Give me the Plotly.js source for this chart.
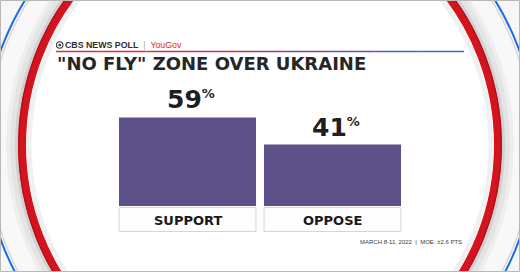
<!DOCTYPE html>
<html>
<head>
<meta charset="utf-8">
<script src="https://cdn.plot.ly/plotly-3.0.1.min.js"></script>
<style>html,body{margin:0;padding:0;background:#fff;}#chart{width:520px;height:272px;}</style>
</head>
<body>
<div id="chart"></div>
<script>
// ---- data ----
const categories = ["SUPPORT", "OPPOSE"];
const values = [59, 41];
const valueSuffix = "%";
const headerLeft = "CBS NEWS POLL";
const headerRight = "YouGov";
const chartTitle = "\"NO FLY\" ZONE OVER UKRAINE";
const footnote = "MARCH 8-11, 2022  |  MOE: ±2.6 PTS";

// ---- helpers (pixel -> paper, margins are 0) ----
const W = 520, H = 272;
const px = x => x / W;
const py = y => 1 - y / H;

const shapes = [];
shapes.push({type:'rect', xref:'paper', yref:'paper', x0:0, x1:1, y0:0, y1:1, fillcolor:'#f6f6f6', line:{width:0}, layer:'below'});
const cx = 260, cy = 145;
function ell(rx, ry, opts){
  return Object.assign({type:'circle', xref:'paper', yref:'paper', x0:px(cx-rx), x1:px(cx+rx), y0:py(cy+ry), y1:py(cy-ry), layer:'below'}, opts);
}
shapes.push(ell(276, 276, {fillcolor:'#f8f8f8', line:{color:'#1c6ee0', width:2}}));
shapes.push(ell(273, 273, {fillcolor:'rgba(0,0,0,0)', line:{color:'#d8d8d8', width:1.5}}));
shapes.push(ell(252, 257, {fillcolor:'#e4e4e4', line:{color:'#eeeeee', width:4}}));
shapes.push(ell(245, 250, {fillcolor:'#d0d0d0', line:{width:0}}));
shapes.push(ell(238, 243, {fillcolor:'#ffffff', line:{color:'#d3141f', width:8}}));
shapes.push(ell(241.5, 246.5, {fillcolor:'rgba(0,0,0,0)', line:{color:'#a80d18', width:1}}));
shapes.push(ell(231, 236, {fillcolor:'rgba(0,0,0,0)', line:{color:'#f0f0f0', width:5}}));
shapes.push({type:'rect', xref:'paper', yref:'paper', x0:px(0.5), x1:px(519.5), y0:py(271.5), y1:py(0.5), line:{color:'#b8b8b8', width:1}, layer:'below'});

// header gradient rule
const ruleCols = ['#e0303a','#e0303c','#d83244','#c23656','#a03c74','#7c4894','#5c56b4','#4a60cc','#4464d4'];
const rx0 = 56, rx1 = 464, ryv = 51.5;
for (let i = 0; i < ruleCols.length; i++) {
  const a = rx0 + (rx1 - rx0) * i / ruleCols.length;
  const b = rx0 + (rx1 - rx0) * (i + 1) / ruleCols.length;
  shapes.push({type:'line', xref:'paper', yref:'paper', x0:px(a), x1:px(b), y0:py(ryv), y1:py(ryv), line:{color:ruleCols[i], width:1.3}, layer:'above'});
}
// CBS eye logo
shapes.push({type:'circle', xref:'paper', yref:'paper', x0:px(56.5), x1:px(63), y0:py(48.3), y1:py(41.8), line:{color:'#333', width:1.1}, fillcolor:'rgba(0,0,0,0)'});
shapes.push({type:'circle', xref:'paper', yref:'paper', x0:px(58.4), x1:px(61.1), y0:py(46.4), y1:py(43.7), line:{width:0}, fillcolor:'#333'});

categories.forEach((c, i) => {
  shapes.push({type:'rect', xref:'x', yref:'paper', x0:i - 0.472, x1:i + 0.472, y0:py(231.5), y1:py(207.5), fillcolor:'#fdfdfd', line:{color:'#d6d6d6', width:1}, layer:'above'});
});

const annotations = [];
annotations.push({xref:'paper', yref:'paper', x:px(62.5), y:py(45.3), xanchor:'left', yanchor:'middle', showarrow:false,
  text:'<b>' + headerLeft + '</b>&nbsp;&nbsp;<span style="color:#aaa">|</span>&nbsp;&nbsp;<span style="color:#e0232c">' + headerRight + '</span>',
  font:{family:'Liberation Sans, Arial, sans-serif', size:8.8, color:'#2e2e2e'}});
annotations.push({xref:'paper', yref:'paper', x:px(55), y:py(63.5), xanchor:'left', yanchor:'middle', showarrow:false,
  text:'<b>' + chartTitle + '</b>', font:{family:'DejaVu Sans, sans-serif', size:18, color:'#262626'}});
annotations.push({xref:'paper', yref:'paper', x:px(464), y:py(241.5), xanchor:'right', yanchor:'middle', showarrow:false,
  text:footnote, font:{family:'Liberation Sans Narrow, Liberation Sans, Arial, sans-serif', size:6, color:'#3a3a3a'}});
categories.forEach((c, i) => {
  annotations.push({xref:'x', yref:'y', x:c, y:values[i], xanchor:'center', yanchor:'bottom', xshift:3, yshift:1, showarrow:false,
    text:'<b>' + values[i] + '<sup><span style="font-size:13px">' + valueSuffix + '</span></sup></b>', font:{family:'DejaVu Sans, sans-serif', size:25, color:'#1f1f1f'}});
  annotations.push({xref:'x', yref:'paper', x:c, y:py(220), xanchor:'center', yanchor:'middle', showarrow:false,
    text:'<b>' + c + '</b>', font:{family:'DejaVu Sans, sans-serif', size:13, color:'#1a1a1a'}});
});

const trace = {type:'bar', x:categories, y:values, marker:{color:'#5e5089', line:{width:0}}, hoverinfo:'skip'};

const layout = {
  width:W, height:H, margin:{l:0, r:0, t:0, b:0, pad:0},
  paper_bgcolor:'#ffffff', plot_bgcolor:'rgba(0,0,0,0)',
  showlegend:false, bargap:0.055,
  xaxis:{domain:[px(115), px(405)], range:[-0.5, 1.5], type:'category', showgrid:false, zeroline:false, showticklabels:false, showline:false, ticks:''},
  yaxis:{domain:[py(206), py(56)], range:[0, 100], showgrid:false, zeroline:false, showticklabels:false, showline:false, ticks:''},
  shapes:shapes, annotations:annotations
};
Plotly.newPlot('chart', [trace], layout, {staticPlot:true, displayModeBar:false});
</script>
</body>
</html>
